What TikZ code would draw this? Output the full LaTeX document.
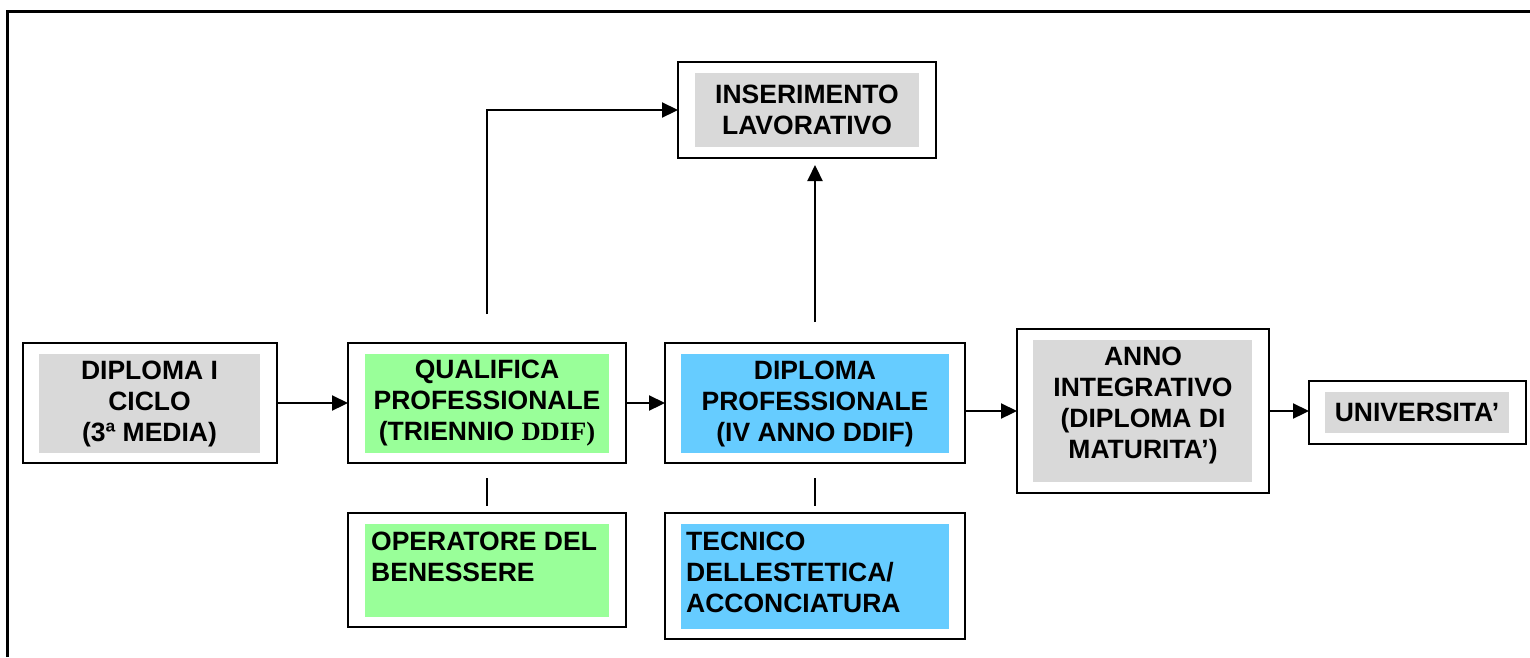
\documentclass[tikz,border=0pt]{standalone}
\usepackage{fontspec}
\setmainfont{Liberation Sans}
\newfontfamily\timesbf{Liberation Serif}
\usetikzlibrary{arrows.meta}

\definecolor{boxgray}{HTML}{D9D9D9}
\definecolor{boxgreen}{HTML}{99FF99}
\definecolor{boxblue}{HTML}{66CCFF}

\begin{document}
\begin{tikzpicture}[
        x=1pt, y=-1pt,
        box/.style={draw, line width=2pt, inner sep=0pt, outer sep=0pt},
        bg/.style={inner sep=0pt, outer sep=0pt, align=center,
            font=\bfseries\fontsize{26.5}{31}\selectfont},
        txt/.style={inner sep=0pt, align=left,
            font=\bfseries\fontsize{26.5}{31}\selectfont},
        arr/.style={line width=2.2pt, -{Triangle[length=16pt, width=15pt]}},
        link/.style={line width=2.2pt}
    ]
        \useasboundingbox (0,0) rectangle (1530,657);

        % Open frame on the left and on top
        \draw[line width=3pt] (7,657) -- (7,11) -- (1530,11);

        % Shaded backgrounds with their texts
        \node[bg, fill=boxgray, minimum width=224, minimum height=74] (insbg) at (807,110) {INSERIMENTO\\LAVORATIVO};
        \node[bg, fill=boxgray, minimum width=221, minimum height=99] (dip1bg) at (149.5,403.5) {DIPLOMA I\\CICLO\\(3ª MEDIA)};
        \node[bg, fill=boxgreen, minimum width=244, minimum height=99] (qualbg) at (487,403.5) {QUALIFICA\\PROFESSIONALE\\(TRIENNIO {\timesbf DDIF)}};
        \node[bg, fill=boxblue, minimum width=268, minimum height=99] (diplbg) at (815,403.5) {DIPLOMA\\PROFESSIONALE\\(IV ANNO DDIF)};
        \node[bg, fill=boxgray, minimum width=219, minimum height=142] (annobg) at (1142.5,411) {};
        \node[bg, fill=boxgray, minimum width=184, minimum height=41] (univbg) at (1417,412.5) {UNIVERSITA’};
        \node[bg, fill=boxgreen, minimum width=244, minimum height=93] (operbg) at (487,570.5) {};
        \node[bg, fill=boxblue, minimum width=268, minimum height=105] (tecnbg) at (815,576.5) {};

        % Texts placed on their own
        \node[bg] (annotxt) at (1143,405) {ANNO\\INTEGRATIVO\\(DIPLOMA DI\\MATURITA’)};
        \node[txt, anchor=north west] (opertxt) at (371,532) {OPERATORE DEL\\BENESSERE};
        \node[txt, anchor=north west] (tecntxt) at (686,532) {TECNICO\\DELLESTETICA/\\ACCONCIATURA};

        % Outer frames
        \node[box, minimum width=258, minimum height=96] (ins) at (807,110) {};
        \node[box, minimum width=254, minimum height=120] (dip1) at (150,403) {};
        \node[box, minimum width=278, minimum height=120] (qual) at (487,403) {};
        \node[box, minimum width=300, minimum height=120] (dipl) at (815,403) {};
        \node[box, minimum width=252, minimum height=164] (anno) at (1143,411) {};
        \node[box, minimum width=217, minimum height=63] (univ) at (1417.5,412.5) {};
        \node[box, minimum width=278, minimum height=114] (oper) at (487,570) {};
        \node[box, minimum width=300, minimum height=126] (tecn) at (815,576) {};

        % Main path from left to right
        \draw[arr] (dip1) -- (qual);
        \draw[arr] (qual) -- (dipl);
        \draw[arr] (dipl.east |- anno) -- (anno);
        \draw[arr] (anno.east) -- (anno.east -| univ.west);

        % Ways into work
        \draw[arr, shorten <=29pt] (qual.north) |- (ins.west);
        \draw[arr, shorten <=21pt, shorten >=7pt] (dipl.north) -- (dipl.north |- ins.south);

        % Short links to the profiles below
        \draw[link, shorten <=15pt, shorten >=7pt] (qual) -- (oper);
        \draw[link, shorten <=15pt, shorten >=7pt] (dipl) -- (tecn);
    \end{tikzpicture}
\end{document}
